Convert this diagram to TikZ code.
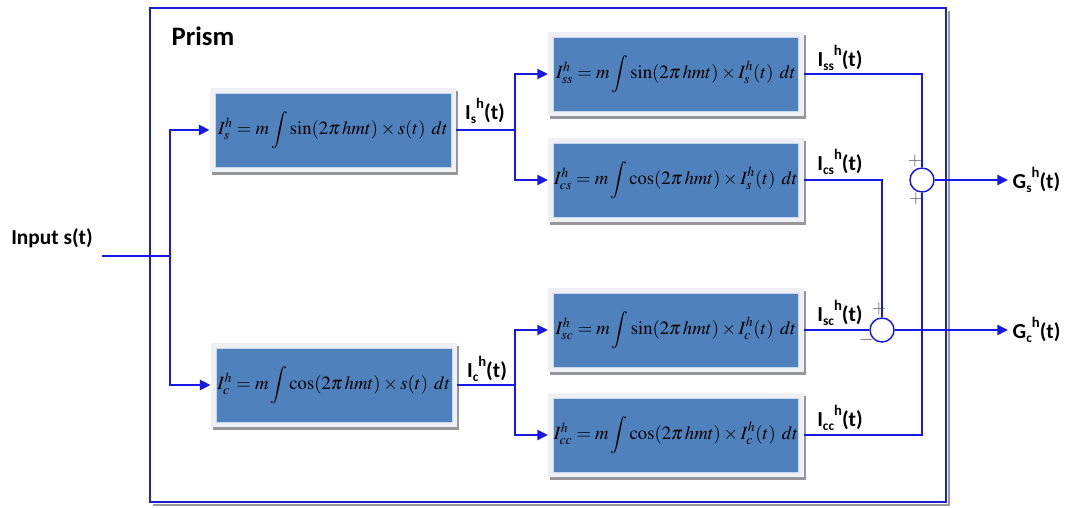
\documentclass[tikz,border=0pt]{standalone}
\usepackage{mathptmx}
\usepackage[no-math]{fontspec}
\newfontfamily\labfont{Carlito}
\usetikzlibrary{arrows.meta,calc}
\definecolor{lineblue}{RGB}{25,25,230}
\definecolor{frameblue}{RGB}{30,30,210}
\definecolor{boxblue}{RGB}{79,129,189}
\definecolor{boxedge}{RGB}{200,215,235}
\definecolor{framelight}{RGB}{238,240,243}
\definecolor{shadowgray}{RGB}{150,150,155}
\newcommand\sig[1]{I\raisebox{-0.35ex}{\fontsize{10}{10}\selectfont #1}\raisebox{1.05ex}{\fontsize{11}{11}\selectfont h}(t)}
\begin{document}
\begin{tikzpicture}[x=0.75pt,y=-0.75pt,
  wire/.style={draw=lineblue, line width=1.8pt},
  thinwire/.style={draw=lineblue, line width=1.1pt},
  arr/.style={wire, -{Triangle[length=8pt,width=7.5pt]}},
  eqbox/.style={rectangle, fill=boxblue, draw=boxedge, line width=0.6pt,
    minimum height=55.5pt, inner sep=0pt, font=\fontsize{14}{16}\selectfont,
    preaction={fill=shadowgray, draw=shadowgray, line width=7.5pt, transform canvas={xshift=1.5pt,yshift=-2.2pt}},
    preaction={fill=framelight, draw=framelight, line width=7.5pt}},
  leftbox/.style={eqbox, minimum width=177pt},
  rightbox/.style={eqbox, minimum width=184pt},
  lab/.style={font=\labfont\bfseries\fontsize{16}{18}\selectfont},
  sumnode/.style={circle, draw=lineblue, line width=1.1pt, fill=white, minimum size=18pt, inner sep=0pt},
  sign/.style={font=\fontsize{14}{14}\selectfont, text=black!65, inner sep=0pt}
]
\useasboundingbox (0,0) rectangle (1070,507);

% frame
\draw[shadowgray, line width=2pt] (949,11) -- (949,505) -- (153,505);
\draw[frameblue, line width=1.9pt] (150,8) rectangle (946,502);
\node[anchor=west, font=\labfont\bfseries\fontsize{20}{22}\selectfont] (prism) at (167,36) {Prism};

% boxes
\node[leftbox] (is) at (333,130) {$I_s^h = m\displaystyle\int \sin(2\pi\, hmt)\times s(t)\ dt$};
\node[leftbox] (ic) at (334,385) {$I_c^h = m\displaystyle\int \cos(2\pi\, hmt)\times s(t)\ dt$};
\node[rightbox] (iss) at (676,74) {$I_{ss}^h = m\displaystyle\int \sin(2\pi\, hmt)\times I_s^h(t)\ dt$};
\node[rightbox] (ics) at (676,180) {$I_{cs}^h = m\displaystyle\int \cos(2\pi\, hmt)\times I_s^h(t)\ dt$};
\node[rightbox] (isc) at (676,330) {$I_{sc}^h = m\displaystyle\int \sin(2\pi\, hmt)\times I_c^h(t)\ dt$};
\node[rightbox] (icc) at (676,435) {$I_{cc}^h = m\displaystyle\int \cos(2\pi\, hmt)\times I_c^h(t)\ dt$};

% summing junctions
\node[sumnode] (c1) at (922,180) {};
\node[sumnode] (c2) at (882,330) {};
\node[sign] (p1) at (915,161) {+};
\node[sign] (p2) at (916,199) {+};
\node[sign] (p3) at (879,309) {+};
\node[sign] (m1) at (866,340) {$-$};

% input
\node[lab] (in) at (52,238) {Input s(t)};
\coordinate (inp) at (102,256);
\coordinate (br) at (170,256);
\draw[wire] (inp) -- (br);
\draw[arr, shorten >=3.75pt] (br) |- (is.west);
\draw[arr, shorten >=3.75pt] (br) |- (ic.west);

% first stage outputs
\coordinate (b1) at (515,130);
\coordinate (b2) at (515,385);
\draw[wire] ([xshift=3.75pt]is.east) -- (b1);
\draw[wire] ([xshift=3.75pt]ic.east) -- (b2);
\draw[arr, shorten >=3.75pt] (b1) |- (iss.west);
\draw[arr, shorten >=3.75pt] (b1) |- (ics.west);
\draw[arr, shorten >=3.75pt] (b2) |- (isc.west);
\draw[arr, shorten >=3.75pt] (b2) |- (icc.west);

\node[lab] (lis) at (485,111) {\sig{s}};
\node[lab] (lic) at (487,369) {\sig{c}};

% second stage outputs
\draw[thinwire] ([xshift=3.75pt]iss.east) -| (c1.north);
\draw[thinwire] ([xshift=3.75pt]ics.east) -| (c2.north);
\draw[thinwire] ([xshift=3.75pt]isc.east) -- (c2.west);
\draw[thinwire] ([xshift=3.75pt]icc.east) -| (c1.south);

\node[lab] (liss) at (840,58) {\sig{ss}};
\node[lab] (lics) at (840,162) {\sig{cs}};
\node[lab] (lisc) at (840,313) {\sig{sc}};
\node[lab] (licc) at (840,418) {\sig{cc}};

% outputs
\node[lab, anchor=west] (gs) at (1008,180) {G\raisebox{-0.35ex}{\fontsize{10}{10}\selectfont s}\raisebox{1.05ex}{\fontsize{11}{11}\selectfont h}(t)};
\node[lab, anchor=west] (gc) at (1008,330) {G\raisebox{-0.35ex}{\fontsize{10}{10}\selectfont c}\raisebox{1.05ex}{\fontsize{11}{11}\selectfont h}(t)};
\draw[arr] (c1.east) -- (gs.west);
\draw[arr] (c2.east) -- (gc.west);
\end{tikzpicture}
\end{document}
